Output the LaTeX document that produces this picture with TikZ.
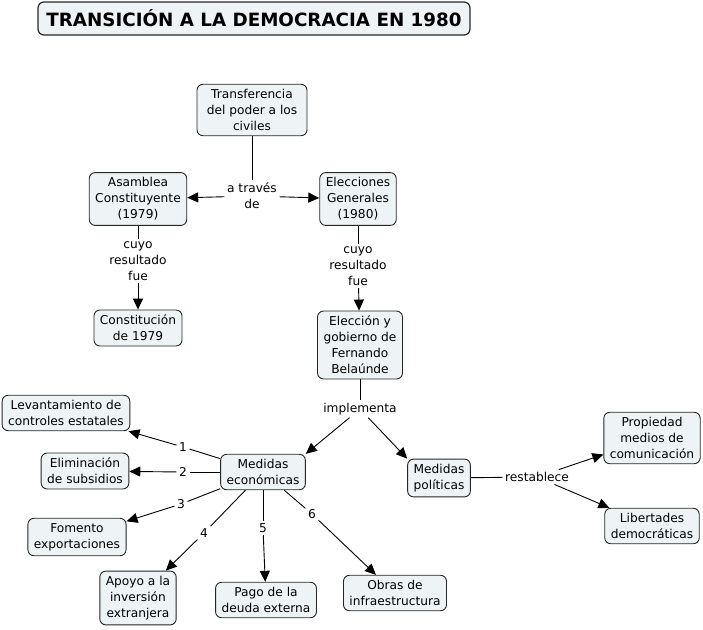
\documentclass[tikz,border=0pt]{standalone}
\usepackage{fontspec}
\setmainfont{DejaVu Sans}
\usetikzlibrary{arrows.meta, positioning}
\definecolor{fondo}{HTML}{EEF3F5}
\definecolor{borde}{HTML}{262626}

\begin{document}
\begin{tikzpicture}[x=1pt, y=-1pt,
      c/.style={draw=borde, line width=0.9pt, rounded corners=6pt, fill=fondo, align=center,
        inner xsep=6pt, inner ysep=5pt, font=\fontsize{12.2}{16}\selectfont},
      l/.style={fill=white, align=center, inner sep=2.5pt, font=\fontsize{12.2}{16}\selectfont},
      f/.style={-{Triangle[length=11pt,width=10pt]}, line width=0.9pt},
      s/.style={line width=0.9pt}]
    \useasboundingbox (0,0) rectangle (703,629);
    \node[c, line width=1.2pt, minimum width=432pt, minimum height=33pt,
      font=\fontsize{18.3}{20}\selectfont\bfseries] (tit) at (254,18.5) {TRANSICIÓN A LA DEMOCRACIA EN 1980};

    % conceptos
    \node[c, minimum width=110pt] (tra) at (252,110) {Transferencia\\del poder a los\\civiles};
    \node[c] (asa) at (138,199) {Asamblea\\Constituyente\\(1979)};
    \node[c] (ele) at (358,199) {Elecciones\\Generales\\(1980)};
    \node[c] (con) at (138,328) {Constitución\\de 1979};
    \node[c] (fer) at (360,345) {Elección y\\gobierno de\\Fernando\\Belaúnde};
    \node[c] (eco) at (263,472) {Medidas\\económicas};
    \node[c] (pol) at (439,478) {Medidas\\políticas};
    \node[c] (lev) at (66,413) {Levantamiento de\\controles estatales};
    \node[c] (sub) at (85,471) {Eliminación\\de subsidios};
    \node[c] (exp) at (77,537) {Fomento\\exportaciones};
    \node[c] (inv) at (138,598) {Apoyo a la\\inversión\\extranjera};
    \node[c] (deu) at (266,600) {Pago de la\\deuda externa};
    \node[c] (obr) at (395,593) {Obras de\\infraestructura};
    \node[c] (pro) at (652,438) {Propiedad\\medios de\\comunicación};
    \node[c] (lib) at (652,526) {Libertades\\democráticas};

    % frases de enlace
    \node[l] (atr) at (252,196) {a través\\de};
    \node[l] (cr1) at (138,261) {cuyo\\resultado\\fue};
    \node[l] (cr2) at (358,266) {cuyo\\resultado\\fue};
    \node[l] (imp) at (360,409) {implementa};
    \node[l] (res) at (537,477) {restablece};
    \node[l] (n1) at (183,447) {1};
    \node[l] (n2) at (183,472) {2};
    \node[l] (n3) at (181,504) {3};
    \node[l] (n4) at (204,533) {4};
    \node[l] (n5) at (263,528) {5};
    \node[l] (n6) at (312,514) {6};

    % conectores
    \draw[s] (tra) -- (atr);
    \draw[f] (atr) -- (asa);
    \draw[f] (atr) -- (ele);
    \draw[s] (asa) -- (cr1);
    \draw[f] (cr1) -- (con);
    \draw[s] (ele) -- (cr2);
    \draw[f] (cr2) -- (fer);
    \draw[s] (fer) -- (imp);
    \draw[f] (imp) -- (eco.north east);
    \draw[f] (imp) -- (pol.north west);
    \draw[s] (pol) -- (res);
    \draw[f] (res) -- (pro);
    \draw[f] (res) -- (lib);
    \draw[s] (eco) -- (n1);
    \draw[f] (n1) -- (lev);
    \draw[s] (eco) -- (n2);
    \draw[f] (n2) -- (sub);
    \draw[s] (eco) -- (n3);
    \draw[f] (n3) -- (exp);
    \draw[s] (eco) -- (n4);
    \draw[f] (n4) -- (inv);
    \draw[s] (eco) -- (n5);
    \draw[f] (n5) -- (deu);
    \draw[s] (eco) -- (n6);
    \draw[f] (n6) -- (obr);
\end{tikzpicture}
\end{document}
